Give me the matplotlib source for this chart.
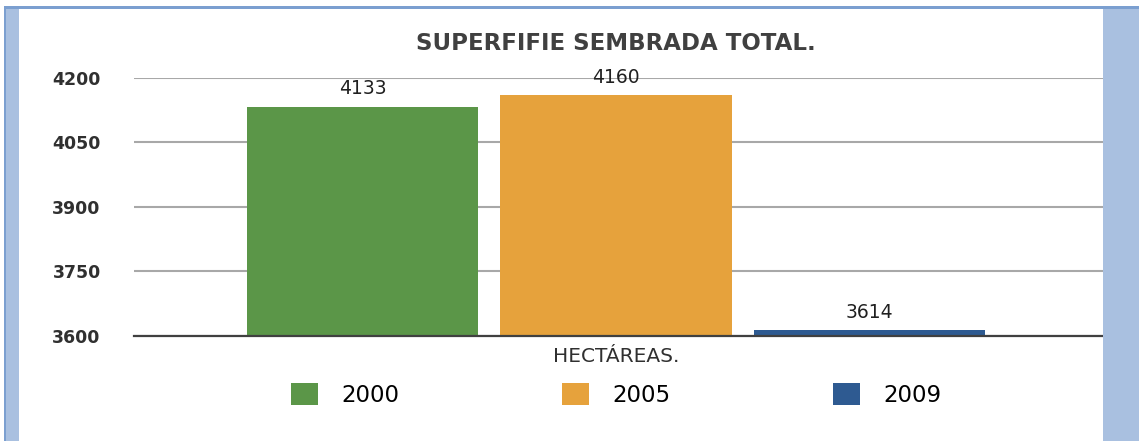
import matplotlib
matplotlib.use("Agg")
import matplotlib.pyplot as plt
from matplotlib.patches import Rectangle

# ---- data ----
title = "SUPERFIFIE SEMBRADA TOTAL."
xlabel = "HECTÁREAS."
years = ["2000", "2005", "2009"]
values = [4133, 4160, 3614]
colors = ["#5b9648", "#e6a23c", "#2e5a91"]
yticks = [3600, 3750, 3900, 4050, 4200]

W, H = 1139, 441
fig = plt.figure(figsize=(W / 100, H / 100), dpi=100)
fig.patch.set_facecolor("white")

# frame decorations
fig.add_artist(Rectangle((4 / W, 0), 15 / W, 1 - 6 / H, transform=fig.transFigure,
                         facecolor="#a9c0e0", edgecolor="none"))
fig.add_artist(Rectangle((4 / W, 0), 2 / W, 1 - 6 / H, transform=fig.transFigure,
                         facecolor="#7b9fd0", edgecolor="none"))
fig.add_artist(Rectangle((1103 / W, 0), 36 / W, 1 - 6 / H, transform=fig.transFigure,
                         facecolor="#a9c0e0", edgecolor="none"))
fig.add_artist(Rectangle((4 / W, 1 - 9 / H), 1 - 4 / W, 3 / H, transform=fig.transFigure,
                         facecolor="#7b9fd0", edgecolor="none"))

left, right = 134 / W, 1103 / W
top, bottom = 1 - 78 / H, 1 - 336 / H
ax = fig.add_axes([left, bottom, right - left, top - bottom])

font = "DejaVu Sans"
centre = 0.4975
step = 0.2617
width = 0.2386
xs = [centre + (i - 1) * step for i in range(len(years))]
bars = ax.bar(xs, [v - yticks[0] for v in values], bottom=yticks[0], width=width,
              color=colors, label=years, zorder=3)
for b, v in zip(bars, values):
    ax.annotate(str(v), (b.get_x() + b.get_width() / 2, v), xytext=(0, 6),
                textcoords="offset points", ha="center", va="bottom",
                fontsize=13.5, family=font, color="#202020")

ax.set_xlim(0, 1)
ax.set_ylim(yticks[0], yticks[-1])
ax.set_yticks(yticks)
ax.set_yticklabels([str(t) for t in yticks], family=font, fontsize=12.5,
                   fontweight="bold", color="#303030")
ax.tick_params(axis="y", length=0, pad=24)
ax.set_xticks([])
ax.grid(axis="y", color="#a8a8a8", linewidth=1.5, zorder=0)
ax.set_axisbelow(True)
for s in ["top", "left", "right"]:
    ax.spines[s].set_visible(False)
ax.spines["bottom"].set_color("#404040")
ax.spines["bottom"].set_linewidth(1.6)
ax.spines["bottom"].set_zorder(4)

fig.text(616 / W, 1 - 44 / H, title, ha="center", va="center", family=font,
         fontweight="heavy", fontsize=16.5, color="#404040")
fig.text(616 / W, 1 - 357 / H, xlabel, ha="center", va="center", family=font,
         fontsize=14.5, color="#303030")

fig.legend(handles=list(bars), labels=years, loc="center",
           bbox_to_anchor=(616 / W, 1 - 395 / H), ncol=3, frameon=False,
           prop={"family": font, "size": 16.5}, handlelength=1.2, handleheight=1.1,
           handletextpad=1.0, columnspacing=7.1)

fig.savefig("out.png", dpi=100)
